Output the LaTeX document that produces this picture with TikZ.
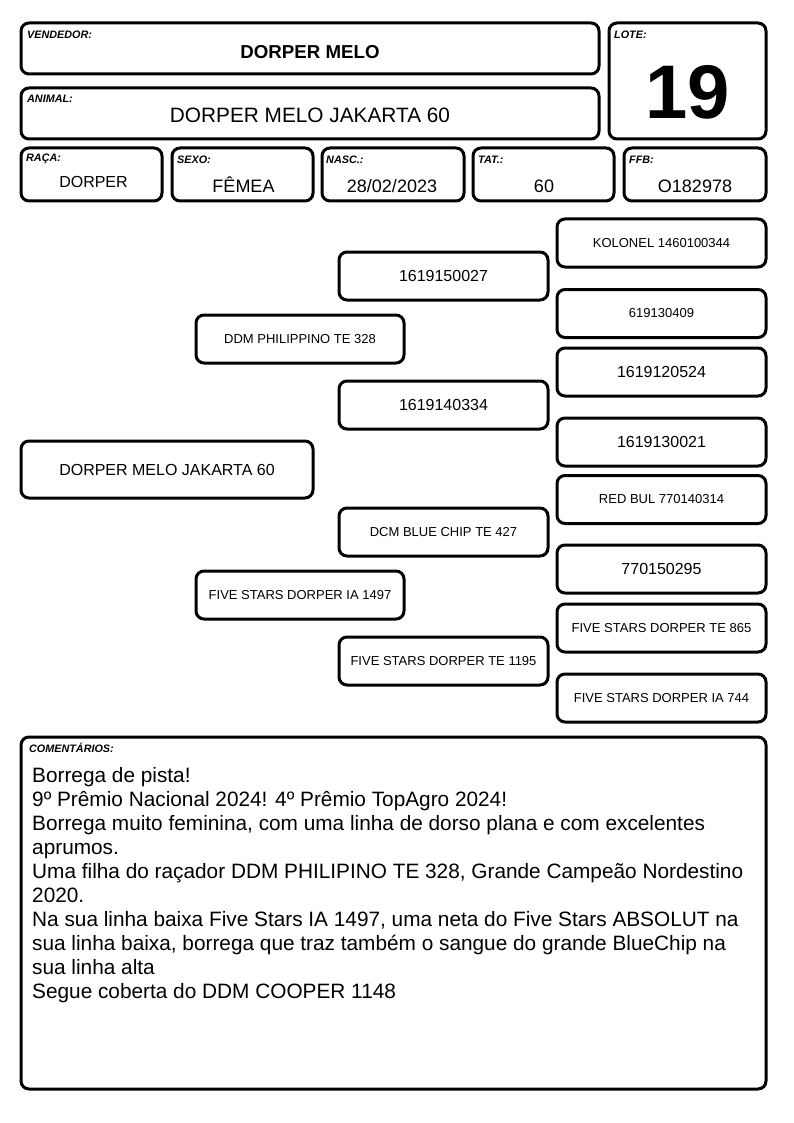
\documentclass[tikz,border=0pt]{standalone}
\usepackage{fontspec}
\setmainfont{Liberation Sans}
\usetikzlibrary{positioning}

\begin{document}
\begin{tikzpicture}[x=1pt, y=-1pt,
  field/.style={draw, line width=3pt, rounded corners=8pt, inner sep=0pt},
  tag/.style={font=\fontsize{10.8}{12}\selectfont\bfseries\itshape, anchor=west, inner sep=0pt},
  val/.style={font=\fontsize{18}{22}\selectfont, inner sep=0pt},
  ped/.style={field, minimum width=209pt, minimum height=48pt, align=center, font=\fontsize{13}{15}\selectfont},
  big/.style={font=\fontsize{16}{19}\selectfont},
]
\useasboundingbox (0,0) rectangle (794,1123);

% === Header: seller, animal, lot ===
\node[field, minimum width=578pt, minimum height=51pt] (vend) at (310,48.5) {};
\node[tag] (vendtag) at (27,35) {VENDEDOR:};
\node[val, font=\fontsize{18.7}{22}\selectfont\bfseries] (vendval) at (310,52) {DORPER MELO};

\node[field, minimum width=578pt, minimum height=51pt] (anim) at (310,113.5) {};
\node[tag] (animtag) at (27,99) {ANIMAL:};
\node[val, font=\fontsize{20.8}{24}\selectfont] (animval) at (310,115) {DORPER MELO JAKARTA 60};

\node[field, minimum width=157pt, minimum height=116pt] (lote) at (687.5,81) {};
\node[tag] (lotetag) at (614,35) {LOTE:};
\node[val, font=\fontsize{76}{80}\selectfont\bfseries] (loteval) at (687.5,92) {19};

% === Data row ===
\node[field, minimum width=141pt, minimum height=53pt] (raca) at (91.5,174.5) {};
\node[tag] (racatag) at (26,159) {RAÇA:};
\node[val, font=\fontsize{16}{19}\selectfont] (racaval) at (93.5,182) {DORPER};

\node[field, minimum width=141pt, minimum height=53pt] (sexo) at (242.5,174.5) {};
\node[tag] (sexotag) at (177,160) {SEXO:};
\node[val] (sexoval) at (243.5,185) {FÊMEA};

\node[field, minimum width=142pt, minimum height=53pt] (nasc) at (393,174.5) {};
\node[tag] (nasctag) at (326,160) {NASC.:};
\node[val] (nascval) at (392,186) {28/02/2023};

\node[field, minimum width=141pt, minimum height=53pt] (tat) at (543.5,174.5) {};
\node[tag] (tattag) at (478,160) {TAT.:};
\node[val] (tatval) at (544,186) {60};

\node[field, minimum width=142pt, minimum height=53pt] (ffb) at (695,174.5) {};
\node[tag] (ffbtag) at (629,160) {FFB:};
\node[val] (ffbval) at (695,186) {O182978};

% === Pedigree ===
\node[ped, big, minimum width=292pt, minimum height=57pt] (self) at (167,469.5) {DORPER MELO JAKARTA 60};

\node[ped, minimum width=208pt] (sire) at (300,339) {DDM PHILIPPINO TE 328};
\node[ped, minimum width=208pt] (dam) at (300,595) {FIVE STARS DORPER IA 1497};

\node[ped, big] (ss) at (443.5,276) {1619150027};
\node[ped, big] (sd) at (443.5,405) {1619140334};
\node[ped] (ds) at (443.5,532) {DCM BLUE CHIP TE 427};
\node[ped] (dd) at (443.5,661) {FIVE STARS DORPER TE 1195};

\node[ped] (sss) at (661.5,243) {KOLONEL 1460100344};
\node[ped] (ssd) at (661.5,313.5) {619130409};
\node[ped, big] (sds) at (661.5,372) {1619120524};
\node[ped, big] (sdd) at (661.5,442) {1619130021};
\node[ped] (dss) at (661.5,499.5) {RED BUL 770140314};
\node[ped, big] (dsd) at (661.5,569) {770150295};
\node[ped] (dds) at (661.5,628) {FIVE STARS DORPER TE 865};
\node[ped] (ddd) at (661.5,698) {FIVE STARS DORPER IA 744};

% === Comments ===
\node[field, minimum width=745pt, minimum height=352pt] (coment) at (393.5,913) {};
\node[tag] (comenttag) at (29,748) {COMENTÁRIOS:};
\node[anchor=north west, inner sep=0pt, align=left, font=\fontsize{20.8}{24}\selectfont] (comenttxt) at (32,767)
  {Borrega de pista!\\
   9º Prêmio Nacional 2024! 4º Prêmio TopAgro 2024!\\
   Borrega muito feminina, com uma linha de dorso plana e com excelentes\\
   aprumos.\\
   Uma filha do raçador DDM PHILIPINO TE 328, Grande Campeão Nordestino\\
   2020.\\
   Na sua linha baixa Five Stars IA 1497, uma neta do Five Stars ABSOLUT na\\
   sua linha baixa, borrega que traz também o sangue do grande BlueChip na\\
   sua linha alta\\
   Segue coberta do DDM COOPER 1148};

\end{tikzpicture}
\end{document}
